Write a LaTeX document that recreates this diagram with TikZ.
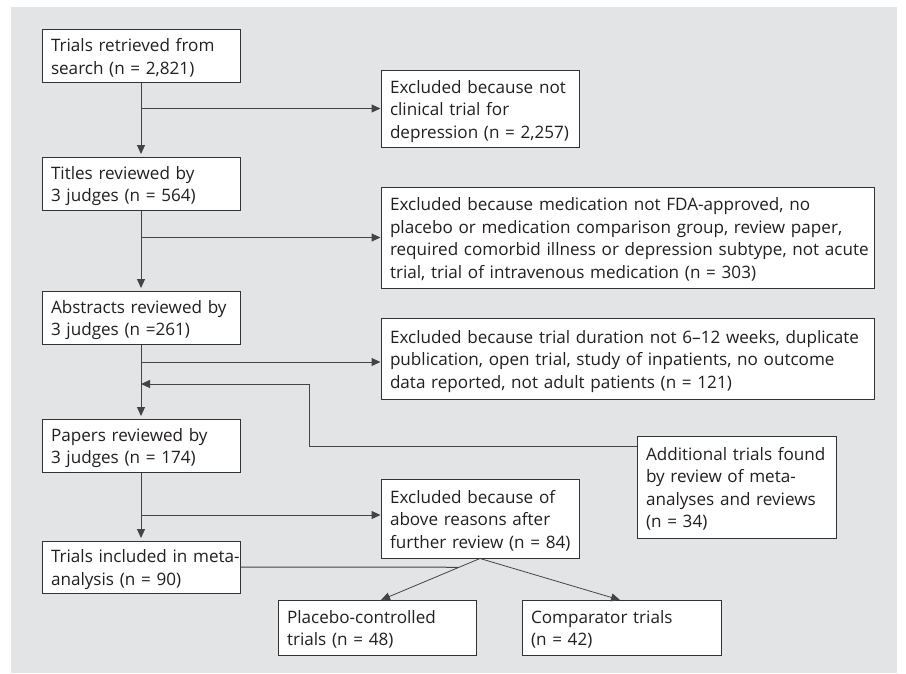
\documentclass[tikz,border=0pt]{standalone}
\usepackage{fontspec}
\setmainfont{Open Sans}
\usetikzlibrary{arrows.meta,calc}
\definecolor{bggray}{HTML}{E3E4E6}
\definecolor{linegray}{HTML}{444444}
\definecolor{boxline}{HTML}{333333}
\definecolor{txt}{HTML}{231F20}
\newcommand\boxlines[1]{\raisebox{-2.5pt}[\height][\depth]{\begin{tabular}{@{}l@{}}#1\end{tabular}}}
\begin{document}
\begin{tikzpicture}[x=1pt,y=-1pt,
  box/.style={draw=boxline,line width=1pt,fill=white,text=txt,
    inner xsep=9pt,inner ysep=0pt,align=left,anchor=center,
    font=\fontsize{17.1}{22.5}\selectfont},
  conn/.style={draw=linegray,line width=1pt},
  arr/.style={conn,-{Triangle[length=9pt,width=8pt]}},
  varr/.style={arr,shorten >=2.5pt},
  thinarr/.style={draw=linegray,line width=0.8pt,-{Triangle[length=9pt,width=8pt]}}]
\useasboundingbox (0,0) rectangle (906,673);
\fill[white] (0,0) rectangle (906,673);
\fill[bggray] (11,7) rectangle (897,673);

\node[box,minimum width=198pt,minimum height=52.5pt,text width=180pt] (b1) at (141,55.75)
  {\boxlines{Trials retrieved from\\search (n = 2,821)}};
\node[box,minimum width=198pt,minimum height=53pt,text width=180pt] (b2) at (141,183.5)
  {\boxlines{Titles reviewed by\\3 judges (n = 564)}};
\node[box,minimum width=198pt,minimum height=53pt,text width=180pt] (b3) at (141,317.5)
  {\boxlines{Abstracts reviewed by\\3 judges (n =261)}};
\node[box,minimum width=198pt,minimum height=53pt,text width=180pt] (b4) at (141,445.5)
  {\boxlines{Papers reviewed by\\3 judges (n = 174)}};
\node[box,minimum width=198pt,minimum height=52pt,text width=180pt] (b5) at (141,567)
  {\boxlines{Trials included in meta-\\analysis (n = 90)}};

\node[box,minimum width=198pt,minimum height=77pt,text width=180pt] (e1) at (480,108.5)
  {\boxlines{Excluded because not\\clinical trial for\\depression (n = 2,257)}};
\node[box,minimum width=493pt,minimum height=101pt,text width=475pt] (e2) at (627.5,237.5)
  {\boxlines{Excluded because medication not FDA-approved, no\\placebo or medication comparison group, review paper,\\required comorbid illness or depression subtype, not acute\\trial, trial of intravenous medication (n = 303)}};
\node[box,minimum width=493pt,minimum height=81pt,text width=475pt] (e3) at (627.5,358.5)
  {\boxlines{Excluded because trial duration not 6–12 weeks, duplicate\\publication, open trial, study of inpatients, no outcome\\data reported, not adult patients (n = 121)}};
\node[box,minimum width=199pt,minimum height=102pt,text width=181pt] (add) at (736.5,487)
  {\boxlines{Additional trials found\\by review of meta-\\analyses and reviews\\(n = 34)}};
\node[box,minimum width=198pt,minimum height=79pt,text width=180pt] (e4) at (480,518.5)
  {\boxlines{Excluded because of\\above reasons after\\further review (n = 84)}};
\node[box,minimum width=198pt,minimum height=55pt,text width=180pt] (plc) at (377,627.5)
  {\boxlines{Placebo-controlled\\trials (n = 48)}};
\node[box,minimum width=199pt,minimum height=55pt,text width=181pt] (cmp) at (621.5,627.5)
  {\boxlines{Comparator trials\\(n = 42)}};

% main column
\draw[varr] (b1.south) -- (b2.north);
\draw[varr] (b2.south) -- (b3.north);
\draw[varr] (b3.south) -- (b4.north);
\draw[varr] (b4.south) -- (b5.north);

% branches to exclusions
\coordinate (j1) at (141,108.5);
\coordinate (j2) at (141,237.5);
\coordinate (j3) at (141,362);
\coordinate (j4) at (141,515);
\draw[arr] (j1) -- (j1 -| e1.west);
\draw[arr] (j2) -- (j2 -| e2.west);
\draw[arr] (j3) -- (j3 -| e3.west);
\draw[arr] (j4) -- (j4 -| e4.west);

% feedback from additional trials
\coordinate (fb) at (add.west |- 0,446);
\coordinate (fbin) at (141,384);
\draw[arr] (fb) -- (309,446) -- (309,384) -- (fbin);

% split to final groups
\coordinate (pt) at (381,600);
\coordinate (ct) at (620,600);
\draw[thinarr] (e4.south) -- (pt);
\draw[thinarr] (e4.south) -- (ct);
\draw[conn] (b5.east) -- ($(e4.south)!(b5.east -| 459,0)!(pt)$);
\end{tikzpicture}
\end{document}
